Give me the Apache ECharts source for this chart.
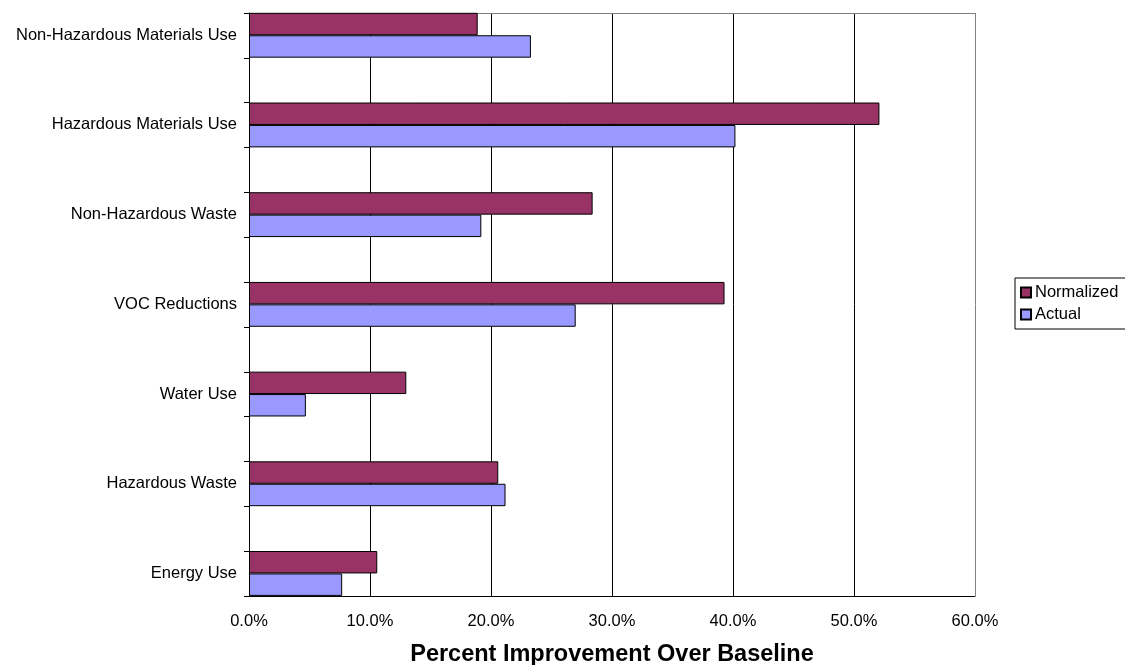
<!DOCTYPE html>
<html><head><meta charset="utf-8">
<script src="https://cdn.jsdelivr.net/npm/echarts@6/dist/echarts.min.js"></script>
<style>html,body{margin:0;padding:0;background:#fff}#c{width:1125px;height:665px}</style>
</head><body><div id="c"></div>
<script>
// Categories listed bottom to top
const categories = ['Energy Use','Hazardous Waste','Water Use','VOC Reductions','Non-Hazardous Waste','Hazardous Materials Use','Non-Hazardous Materials Use'];
const actual = [0.077, 0.212, 0.047, 0.270, 0.192, 0.402, 0.233];
const normalized = [0.106, 0.206, 0.130, 0.393, 0.284, 0.521, 0.189];
const xTicks = [0, 0.1, 0.2, 0.3, 0.4, 0.5, 0.6];
const axisTitle = 'Percent Improvement Over Baseline';
const FONT = 'Liberation Sans, Arial, sans-serif';

const chart = echarts.init(document.getElementById('c'), null, {renderer:'canvas'});
const xMin = xTicks[0], xMax = xTicks[xTicks.length-1], xInt = xTicks[1]-xTicks[0];
chart.setOption({
  animation:false,
  backgroundColor:'#fff',
  textStyle:{fontFamily:FONT},
  grid:[
    {left:249, right:150, top:13, bottom:69, containLabel:false, outerBoundsMode:'none'},
    {left:249, right:150, top:-9.6, bottom:46.7, containLabel:false, outerBoundsMode:'none'}
  ],
  legend:{
    data:['Normalized','Actual'], orient:'vertical', left:1015, top:278,
    icon:'rect', itemWidth:10, itemHeight:10, itemGap:5,
    padding:[6,12,6,5], borderColor:'#000', borderWidth:1,
    textStyle:{fontSize:16.5, color:'#000', fontFamily:FONT, padding:[0,0,0,-1]}
  },
  xAxis:[
    {type:'value', gridIndex:0, min:xMin, max:xMax, interval:xInt,
     axisLine:{show:true, lineStyle:{color:'#000', width:1}},
     axisTick:{show:false},
     axisLabel:{fontSize:16.5, color:'#000', fontFamily:FONT, margin:17,
       formatter:v=>(v*100).toFixed(1)+'%'},
     splitLine:{show:true, lineStyle:{color:['#000','#000','#000','#000','#000','#000','#808080'], width:1}},
     name:axisTitle, nameLocation:'middle', nameGap:47,
     nameTextStyle:{fontSize:23.5, fontWeight:'bold', color:'#000', fontFamily:FONT}},
    {type:'value', gridIndex:0, position:'top', min:xMin, max:xMax, interval:xInt,
     axisLine:{show:true, lineStyle:{color:'#808080', width:1}},
     axisTick:{show:false}, axisLabel:{show:false}, splitLine:{show:false}},
    {type:'value', gridIndex:1, min:xMin, max:xMax, interval:xInt, show:false}
  ],
  yAxis:[
    {type:'value', gridIndex:0, min:0, max:13, interval:1,
     axisLine:{show:true, lineStyle:{color:'#000', width:1}},
     axisTick:{show:true, inside:false, length:5, lineStyle:{color:'#000'}},
     axisLabel:{show:false}, splitLine:{show:false}},
    {type:'category', gridIndex:1, data:categories,
     axisLine:{show:false}, axisTick:{show:false}, splitLine:{show:false},
     axisLabel:{fontSize:16.5, color:'#000', fontFamily:FONT, margin:12}}
  ],
  series:[
    {name:'Normalized', type:'bar', xAxisIndex:2, yAxisIndex:1, data:normalized,
     barCategoryGap:'50%', barGap:'0%',
     itemStyle:{color:'#993366', borderColor:'#000', borderWidth:1}},
    {name:'Actual', type:'bar', xAxisIndex:2, yAxisIndex:1, data:actual,
     barCategoryGap:'50%', barGap:'0%',
     itemStyle:{color:'#9999FF', borderColor:'#000', borderWidth:1}}
  ]
});
</script></body></html>
